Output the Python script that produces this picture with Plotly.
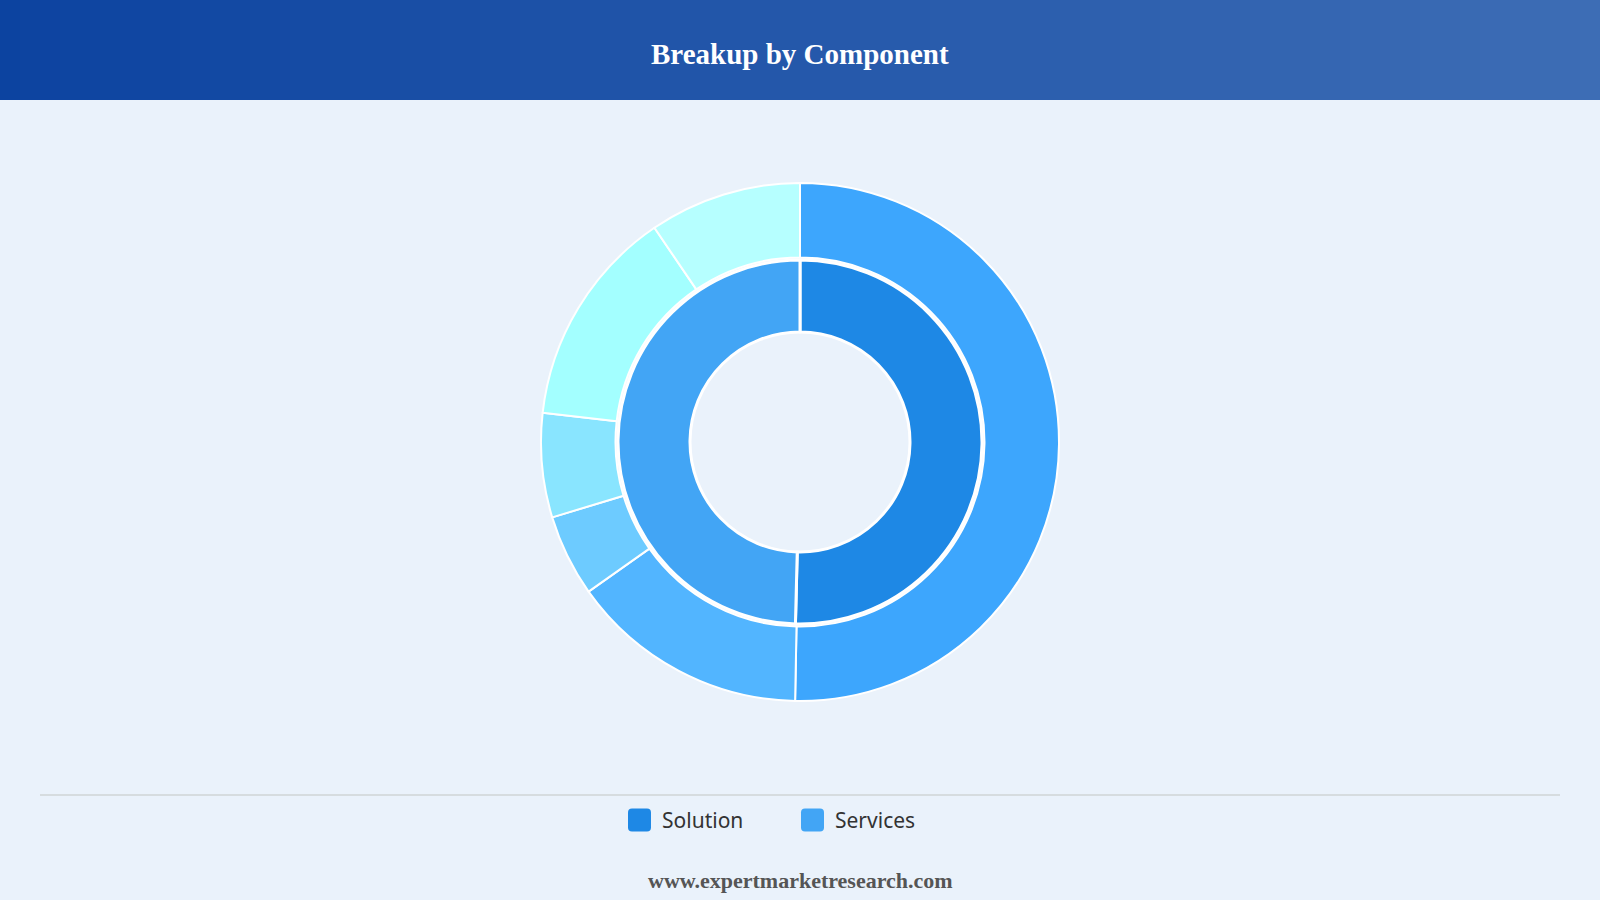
import plotly.graph_objects as go

# ---------------- data ----------------
inner_labels = ["Solution", "Services"]
inner_values = [50.4, 49.6]
inner_colors = ["#1E88E5", "#42A5F5"]

outer_labels = ["Solution", "Managed Services", "Training", "Support", "Integration", "Consulting"]
outer_values = [50.3, 14.9, 5.1, 6.5, 13.7, 9.5]
outer_colors = ["#3DA6FD", "#52B5FF", "#6DCBFF", "#89E5FF", "#A3FFFF", "#B6FFFF"]

title_text = "Breakup by Component"
footer_text = "www.expertmarketresearch.com"

W, H = 1600, 900
BG = "#EAF2FB"

cx, cy = 800, 442
R_out, R_out_in = 259, 184.5
R_in, R_in_in = 182, 110


def dom(r):
    return dict(x=[(cx - r) / W, (cx + r) / W], y=[(H - cy - r) / H, (H - cy + r) / H])


fig = go.Figure()
fig.add_trace(go.Pie(
    labels=outer_labels, values=outer_values, sort=False, direction="clockwise", rotation=0,
    hole=R_out_in / R_out, domain=dom(R_out), textinfo="none", showlegend=False,
    marker=dict(colors=outer_colors, line=dict(color="white", width=2)),
))
fig.add_trace(go.Pie(
    labels=inner_labels, values=inner_values, sort=False, direction="clockwise", rotation=0,
    hole=R_in_in / R_in, domain=dom(R_in), textinfo="none", showlegend=False,
    marker=dict(colors=inner_colors, line=dict(color="white", width=3)),
))

shapes = []
# header gradient
c0 = (12, 67, 160)
c1 = (61, 109, 181)
n = 160
hh = 100
for i in range(n):
    t = i / (n - 1)
    col = "rgb(%d,%d,%d)" % tuple(round(c0[k] + (c1[k] - c0[k]) * t) for k in range(3))
    shapes.append(dict(type="rect", xref="paper", yref="paper",
                       x0=i / n, x1=(i + 1) / n + 0.001, y0=1 - hh / H, y1=1,
                       fillcolor=col, line=dict(width=0), layer="below"))

# separator line
shapes.append(dict(type="line", xref="paper", yref="paper", x0=40 / W, x1=1560 / W,
                   y0=1 - 795 / H, y1=1 - 795 / H, line=dict(color="#D6DCDF", width=2)))


# manual legend with rounded squares
def rounded_sq(x0, y0, s, r):
    # pixel coords (y down) -> paper
    def p(x, y):
        return "%.5f,%.5f" % (x / W, 1 - y / H)
    x1, y1 = x0 + s, y0 + s
    return ("M" + p(x0 + r, y0) + " L" + p(x1 - r, y0) + " Q" + p(x1, y0) + " " + p(x1, y0 + r) +
            " L" + p(x1, y1 - r) + " Q" + p(x1, y1) + " " + p(x1 - r, y1) +
            " L" + p(x0 + r, y1) + " Q" + p(x0, y1) + " " + p(x0, y1 - r) +
            " L" + p(x0, y0 + r) + " Q" + p(x0, y0) + " " + p(x0 + r, y0) + " Z")


annotations = []
leg_x = [628, 801]
leg_y = 820
sq = 23
for lbl, col, x in zip(inner_labels, inner_colors, leg_x):
    shapes.append(dict(type="path", xref="paper", yref="paper",
                       path=rounded_sq(x, leg_y - sq / 2, sq, 4),
                       fillcolor=col, line=dict(width=0)))
    annotations.append(dict(text=lbl, xref="paper", yref="paper", x=(x + sq + 9) / W,
                            y=1 - leg_y / H, xanchor="left", yanchor="middle", showarrow=False,
                            font=dict(family="Noto Sans, Open Sans, sans-serif", size=21, color="#333333")))

annotations.append(dict(text="<b>" + title_text + "</b>", xref="paper", yref="paper", x=0.5,
                        y=1 - 54 / H, xanchor="center", yanchor="middle", showarrow=False,
                        font=dict(family="Liberation Serif, Times New Roman, serif", size=29, color="white")))
annotations.append(dict(text="<b>" + footer_text + "</b>", xref="paper", yref="paper", x=0.5,
                        y=1 - 880 / H, xanchor="center", yanchor="middle", showarrow=False,
                        font=dict(family="Liberation Serif, Times New Roman, serif", size=22, color="#555555")))

fig.update_layout(
    width=W, height=H, margin=dict(l=0, r=0, t=0, b=0),
    paper_bgcolor=BG, plot_bgcolor=BG, showlegend=False,
    shapes=shapes, annotations=annotations,
)

fig.write_html("out.html", config={"displayModeBar": False})
